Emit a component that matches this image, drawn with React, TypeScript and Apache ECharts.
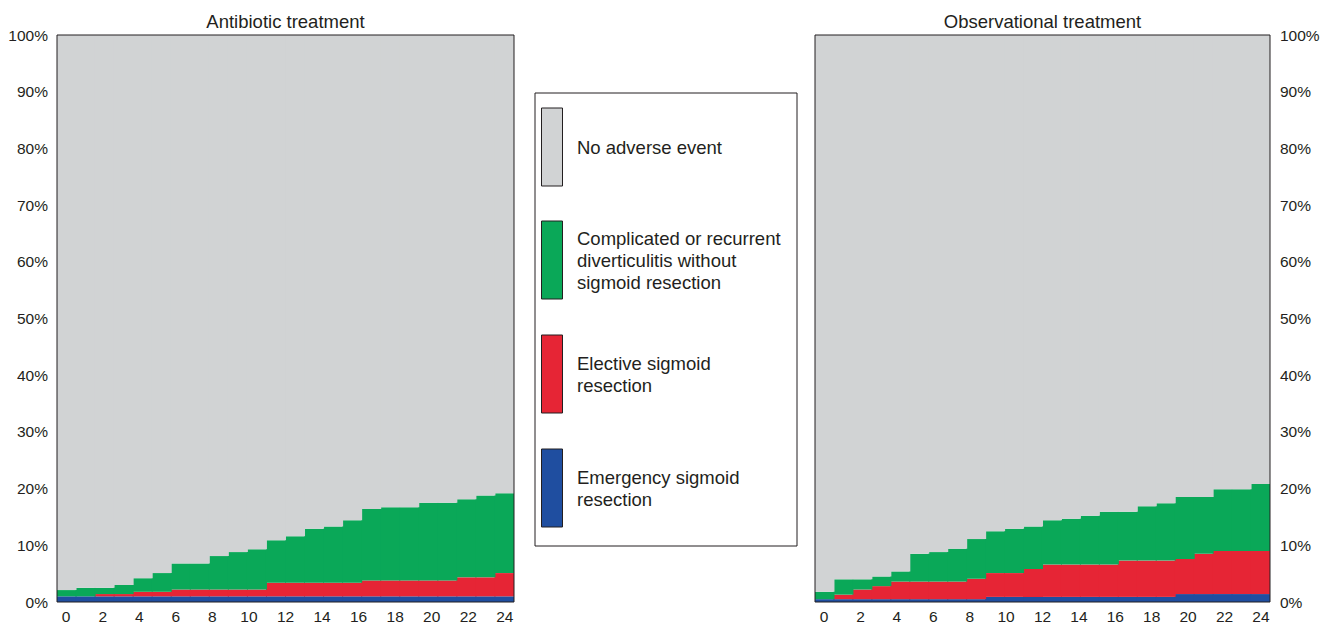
import React, { useEffect, useRef } from "react";
import * as echarts from "echarts";

// Month intervals (bars) and month tick labels
const intervals = [
  "0-1", "1-2", "2-3", "3-4", "4-5", "5-6", "6-7", "7-8", "8-9", "9-10", "10-11", "11-12",
  "12-13", "13-14", "14-15", "15-16", "16-17", "17-18", "18-19", "19-20", "20-21", "21-22", "22-23", "23-24",
];
const monthTicks = [
  "0", "1", "2", "3", "4", "5", "6", "7", "8", "9", "10", "11", "12",
  "13", "14", "15", "16", "17", "18", "19", "20", "21", "22", "23", "24",
];

const panelTitles = ["Antibiotic treatment", "Observational treatment"];
const seriesNames = [
  "Emergency sigmoid resection",
  "Elective sigmoid resection",
  "Complicated or recurrent diverticulitis without sigmoid resection",
  "No adverse event",
];
const legendLabels = [
  "No adverse event",
  "Complicated or recurrent\ndiverticulitis without\nsigmoid resection",
  "Elective sigmoid\nresection",
  "Emergency sigmoid\nresection",
];
const colors = ["#1f4ea0", "#e62535", "#0aa858", "#d1d3d4"];
const legendColors = ["#d1d3d4", "#0aa858", "#e62535", "#1f4ea0"];

// Antibiotic treatment (% of patients, per layer)
const abxEmergency = [1, 1, 1, 1, 1, 1, 1, 1, 1, 1, 1, 1, 1, 1, 1, 1, 1, 1, 1, 1, 1, 1, 1, 1];
const abxElective = [0, 0, 0.4, 0.4, 0.8, 0.8, 1.2, 1.2, 1.2, 1.2, 1.2, 2.4, 2.4, 2.4, 2.4, 2.4, 2.8, 2.8, 2.8, 2.8, 2.8, 3.35, 3.35, 4.1];
const abxComplicated = [1.1, 1.5, 1.1, 1.6, 2.4, 3.3, 4.6, 4.6, 5.9, 6.6, 7.1, 7.5, 8.2, 9.5, 9.9, 11.0, 12.6, 12.9, 12.9, 13.7, 13.7, 13.75, 14.45, 14.1];
const abxNoEvent = [97.9, 97.5, 97.5, 97.0, 95.8, 94.9, 93.2, 93.2, 91.9, 91.2, 90.7, 89.1, 88.4, 87.1, 86.7, 85.6, 83.6, 83.3, 83.3, 82.5, 82.5, 81.9, 81.2, 80.8];

// Observational treatment
const obsEmergency = [0.5, 0.5, 0.5, 0.5, 0.5, 0.5, 0.5, 0.5, 0.5, 0.9, 0.9, 0.9, 0.9, 0.9, 0.9, 0.9, 0.9, 0.9, 0.9, 1.4, 1.4, 1.4, 1.4, 1.4];
const obsElective = [0, 0.8, 1.7, 2.3, 3.1, 3.1, 3.1, 3.1, 3.6, 4.2, 4.2, 4.9, 5.7, 5.7, 5.7, 5.7, 6.4, 6.4, 6.4, 6.2, 7.1, 7.6, 7.6, 7.6];
const obsComplicated = [1.3, 2.7, 1.8, 1.7, 1.8, 4.9, 5.2, 5.8, 7.0, 7.4, 7.8, 7.5, 7.8, 8.1, 8.6, 9.3, 8.6, 9.6, 10.1, 10.9, 10.0, 10.9, 10.9, 11.8];
const obsNoEvent = [98.2, 96.0, 96.0, 95.5, 94.6, 91.5, 91.2, 90.6, 88.9, 87.5, 87.1, 86.7, 85.6, 85.3, 84.8, 84.1, 84.1, 83.1, 82.6, 81.5, 81.5, 80.1, 80.1, 79.2];

const FONT = "'Liberation Sans', Arial, Helvetica, sans-serif";
const INK = "#231f20";

export default function App() {
  const ref = useRef<HTMLDivElement>(null);

  useEffect(() => {
    document.body.style.margin = "0";
    if (!ref.current) return;
    const chart = echarts.init(ref.current, null, { renderer: "svg" });

    const grids = [
      { left: 57, top: 35, width: 457, height: 567 },
      { left: 815, top: 35, width: 455, height: 567 },
    ];

    const panels = [
      [abxEmergency, abxElective, abxComplicated, abxNoEvent],
      [obsEmergency, obsElective, obsComplicated, obsNoEvent],
    ];

    const xAxis: any[] = [];
    const yAxis: any[] = [];
    const series: any[] = [];
    grids.forEach((g, gi) => {
      xAxis.push({
        type: "category",
        gridIndex: gi,
        data: intervals,
        boundaryGap: true,
        show: false,
      });
      xAxis.push({
        type: "category",
        gridIndex: gi,
        data: monthTicks,
        boundaryGap: true,
        position: "bottom",
        axisLine: { show: false },
        axisTick: { show: false },
        axisLabel: {
          interval: 1,
          color: INK,
          fontSize: 15.5,
          fontFamily: FONT,
          margin: 6,
        },
        splitLine: { show: false },
      });
      yAxis.push({
        type: "value",
        gridIndex: gi,
        min: 0,
        max: 100,
        interval: 10,
        position: gi === 0 ? "left" : "right",
        axisLine: { show: false },
        axisTick: { show: false },
        splitLine: { show: false },
        axisLabel: {
          formatter: "{value}%",
          color: INK,
          fontSize: 15.5,
          fontFamily: FONT,
          margin: gi === 0 ? 9 : 10,
        },
      });
      panels[gi].forEach((vals, si) => {
        series.push({
          type: "bar",
          name: seriesNames[si],
          xAxisIndex: gi * 2,
          yAxisIndex: gi,
          stack: "panel" + gi,
          data: vals,
          barWidth: 20,
          barGap: "-100%",
          itemStyle: { color: colors[si], borderWidth: 0 },
          emphasis: { disabled: true },
          silent: true,
          clip: true,
        });
      });
    });

    const graphic: any[] = [];
    grids.forEach((g, gi) => {
      graphic.push({
        type: "rect",
        z: 100,
        shape: { x: g.left, y: g.top, width: g.width, height: g.height },
        style: { fill: "none", stroke: INK, lineWidth: 1 },
      });
      graphic.push({
        type: "text",
        z: 100,
        x: g.left + g.width / 2,
        y: 21,
        style: {
          text: panelTitles[gi],
          fill: INK,
          font: `18.5px ${FONT}`,
          textAlign: "center",
          textVerticalAlign: "middle",
        },
      });
    });

    // Legend box
    graphic.push({
      type: "rect",
      z: 100,
      shape: { x: 535, y: 93, width: 262, height: 453 },
      style: { fill: "#ffffff", stroke: INK, lineWidth: 1 },
    });
    const swatchTops = [108, 221, 335, 449];
    legendLabels.forEach((lab, i) => {
      graphic.push({
        type: "rect",
        z: 101,
        shape: { x: 541.5, y: swatchTops[i], width: 21, height: 78 },
        style: { fill: legendColors[i], stroke: INK, lineWidth: 1 },
      });
      graphic.push({
        type: "text",
        z: 101,
        x: 577,
        y: swatchTops[i] + 39,
        style: {
          text: lab,
          fill: INK,
          font: `18.5px ${FONT}`,
          lineHeight: 22,
          textAlign: "left",
          textVerticalAlign: "middle",
        },
      });
    });

    chart.setOption({
      animation: false,
      backgroundColor: "#ffffff",
      grid: grids.map((g) => ({ ...g, containLabel: false })),
      xAxis,
      yAxis,
      series,
      graphic,
    });

    return () => chart.dispose();
  }, []);

  return <div ref={ref} style={{ width: 1323, height: 625 }} />;
}
